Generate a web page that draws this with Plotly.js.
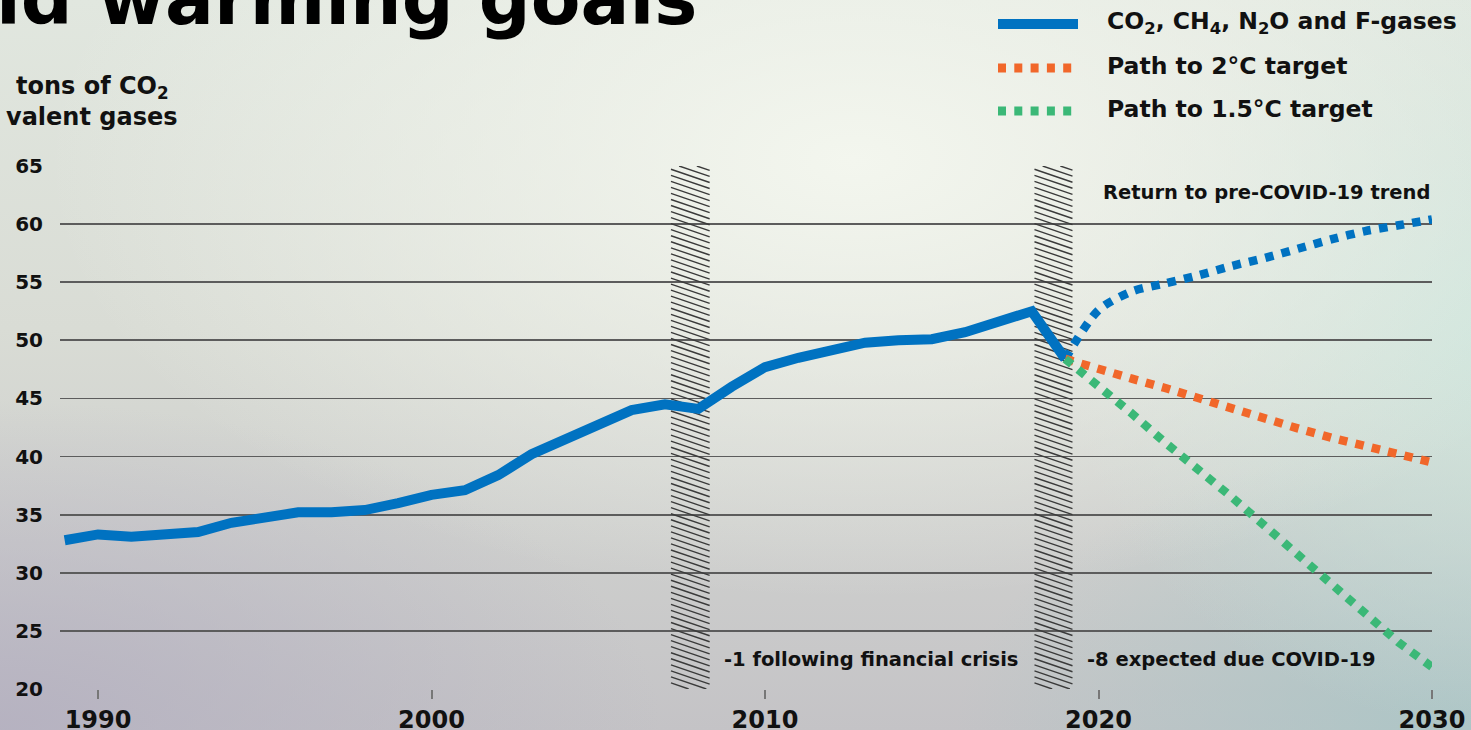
<!DOCTYPE html>
<html><head><meta charset="utf-8">
<script src="https://cdn.plot.ly/plotly-3.0.1.min.js"></script>
<style>
html,body{margin:0;padding:0;width:1471px;height:730px;overflow:hidden;}
body{
 background:
  radial-gradient(ellipse 55% 60% at 58% 22%, rgba(243,246,238,1) 0%, rgba(243,246,238,0) 100%),
  radial-gradient(ellipse 30% 55% at 102% 45%, rgba(205,230,221,0.9) 0%, rgba(205,230,221,0) 100%),
  radial-gradient(ellipse 35% 40% at 100% 100%, rgba(170,198,198,0.9) 0%, rgba(170,198,198,0) 100%),
  radial-gradient(ellipse 45% 45% at 0% 100%, rgba(180,176,192,0.9) 0%, rgba(180,176,192,0) 100%),
  linear-gradient(180deg, #e1e7df 0%, #d9dcd5 45%, #c4c3c6 100%);
}
#chart{width:1471px;height:730px;}
</style></head><body><div id="chart"></div><script>
// ---- data ----
const years = [1989,1990,1991,1992,1993,1994,1995,1996,1997,1998,1999,2000,2001,2002,2003,2004,2005,2006,2007,2008,2009,2010,2011,2012,2013,2014,2015,2016,2017,2018,2019];
const emissions = [32.8,33.3,33.1,33.3,33.5,34.3,34.8,35.2,35.2,35.4,36.0,36.7,37.1,38.4,40.2,41.5,42.7,44.0,44.5,44.1,46.0,47.7,48.5,49.2,49.8,50.0,50.1,50.7,51.7,52.5,48.4];
const projYears = [2019,2020,2021,2022,2023,2024,2025,2026,2027,2028,2029,2030];
const preCovidTrend = [48.4,52.6,54.2,54.9,55.6,56.4,57.1,57.9,58.7,59.4,59.9,60.4];
const path2C = [48.4,47.5,46.7,45.9,45.0,44.1,43.2,42.4,41.6,40.9,40.2,39.5];
const path15C = [48.4,46.1,43.7,41.2,38.9,36.5,34.0,31.5,29.0,26.5,24.0,21.9];
const hatchStart = [2007.18, 2018.08];
const hatchEnd = [2008.34, 2019.22];
const xTickVals = [1990,2000,2010,2020,2030];
const xTickText = ['1990','2000','2010','2020','2030'];
const yTickVals = [20,25,30,35,40,45,50,55,60,65];
const seriesNames = ['CO<sub>2</sub>, CH<sub>4</sub>, N<sub>2</sub>O and F-gases','Path to 2°C target','Path to 1.5°C target'];

// ---- styling ----
const W=1471,H=730, M={l:60,r:39,t:166,b:41,autoexpand:false};
const PW=W-M.l-M.r, PH=H-M.t-M.b;
const FONT='"DejaVu Sans", sans-serif';
const BLUE='#0072c1', ORANGE='#f1672a', GREEN='#3bb877';
const Y_RANGE=[20,65], X_RANGE=[1988.86,2030];
const px2x = p => (p-M.l)/PW, px2y = p => (H-M.b-p)/PH;

// hatch segments
const HATCH_STEP=0.52, HATCH_SLOPE=0.98;
const hx=[], hy=[];
for(let i=0;i<hatchStart.length;i++){
  const x0=hatchStart[i], x1=hatchEnd[i], drop=(x1-x0)*HATCH_SLOPE;
  for(let y0=Y_RANGE[0]; y0<=Y_RANGE[1]+drop; y0+=HATCH_STEP){
    let xa=x0, ya=y0, xb=x1, yb=y0-drop;
    if(ya>Y_RANGE[1]){ xa=x0+(ya-Y_RANGE[1])/HATCH_SLOPE; ya=Y_RANGE[1]; }
    if(yb<Y_RANGE[0]){ xb=x0+(y0-Y_RANGE[0])/HATCH_SLOPE; yb=Y_RANGE[0]; }
    if(xa>=xb) continue;
    hx.push(xa,xb,null); hy.push(ya,yb,null);
  }
}

const DASH='8.5px,8.3px';
const traces=[
 {x:hx,y:hy,mode:'lines',line:{color:'#3a3a3a',width:1.4},hoverinfo:'skip'},
 {x:years,y:emissions,mode:'lines',name:seriesNames[0],line:{color:BLUE,width:10}},
 {x:projYears,y:preCovidTrend,mode:'lines',line:{color:BLUE,width:8.5,dash:DASH,shape:'spline',smoothing:0.8}},
 {x:projYears,y:path2C,mode:'lines',name:seriesNames[1],line:{color:ORANGE,width:8.5,dash:DASH}},
 {x:projYears,y:path15C,mode:'lines',name:seriesNames[2],line:{color:GREEN,width:8.5,dash:DASH}}
];

const ann=(text,x,y,opt)=>Object.assign({text,x,y,xref:'paper',yref:'paper',showarrow:false,
  font:{family:FONT,size:19.5,color:'#111',weight:700}},opt||{});

// manual legend (line samples + labels)
const legendColors=[BLUE,ORANGE,GREEN], legendDash=['solid','8px,8.3px','8px,8.3px'], legendWidth=[10,9,9];
const legendRowsPx=[24,68,111];
const shapes=[], legendAnn=[];
seriesNames.forEach((n,i)=>{
  shapes.push({type:'line',xref:'paper',yref:'paper',x0:px2x(998),x1:px2x(1078),y0:px2y(legendRowsPx[i]),y1:px2y(legendRowsPx[i]),
    line:{color:legendColors[i],width:legendWidth[i],dash:legendDash[i]}});
  legendAnn.push(ann(n,px2x(1105),px2y(legendRowsPx[i]-2),{xanchor:'left',yanchor:'middle',
    font:{family:FONT,size:23.5,color:'#111',weight:700}}));
});

const layout={
 width:W,height:H,margin:M,
 paper_bgcolor:'rgba(0,0,0,0)',plot_bgcolor:'rgba(0,0,0,0)',
 showlegend:false,
 xaxis:{range:X_RANGE,tickvals:xTickVals,ticktext:xTickText,showgrid:false,zeroline:false,showline:false,
   ticks:'outside',ticklen:9,tickwidth:2,tickcolor:'#777',
   tickfont:{family:FONT,size:24,color:'#111',weight:700},ticklabelstandoff:0},
 yaxis:{range:Y_RANGE,tickvals:yTickVals,showgrid:true,gridcolor:'#5c5c5c',gridwidth:1.8,zeroline:false,showline:false,
   ticks:'',tickfont:{family:FONT,size:20,color:'#111',weight:700},ticklabelstandoff:16},
 shapes:shapes,
 annotations:[
  ann('ld warming goals',px2x(699),px2y(43),{xanchor:'right',yanchor:'bottom',font:{family:FONT,size:72.5,color:'#000',weight:700}}),
  ann('tons of CO<sub>2</sub>',px2x(170),px2y(87.5),{xanchor:'right',yanchor:'middle',borderpad:0,font:{family:FONT,size:24,color:'#111',weight:700}}),
  ann('valent gases',px2x(178),px2y(117),{xanchor:'right',yanchor:'middle',borderpad:0,font:{family:FONT,size:24,color:'#111',weight:700}}),
  ann('Return to pre-COVID-19 trend',X_RANGE[1],62.7,{xref:'x',yref:'y',xanchor:'right',yanchor:'middle'}),
  ann('-1 following financial crisis',2008.7,22.5,{xref:'x',yref:'y',xanchor:'left',yanchor:'middle'}),
  ann('-8 expected due COVID-19',2019.6,22.5,{xref:'x',yref:'y',xanchor:'left',yanchor:'middle'})
 ].concat(legendAnn)
};
Plotly.newPlot('chart',traces,layout,{displayModeBar:false,staticPlot:true});
</script></body></html>
